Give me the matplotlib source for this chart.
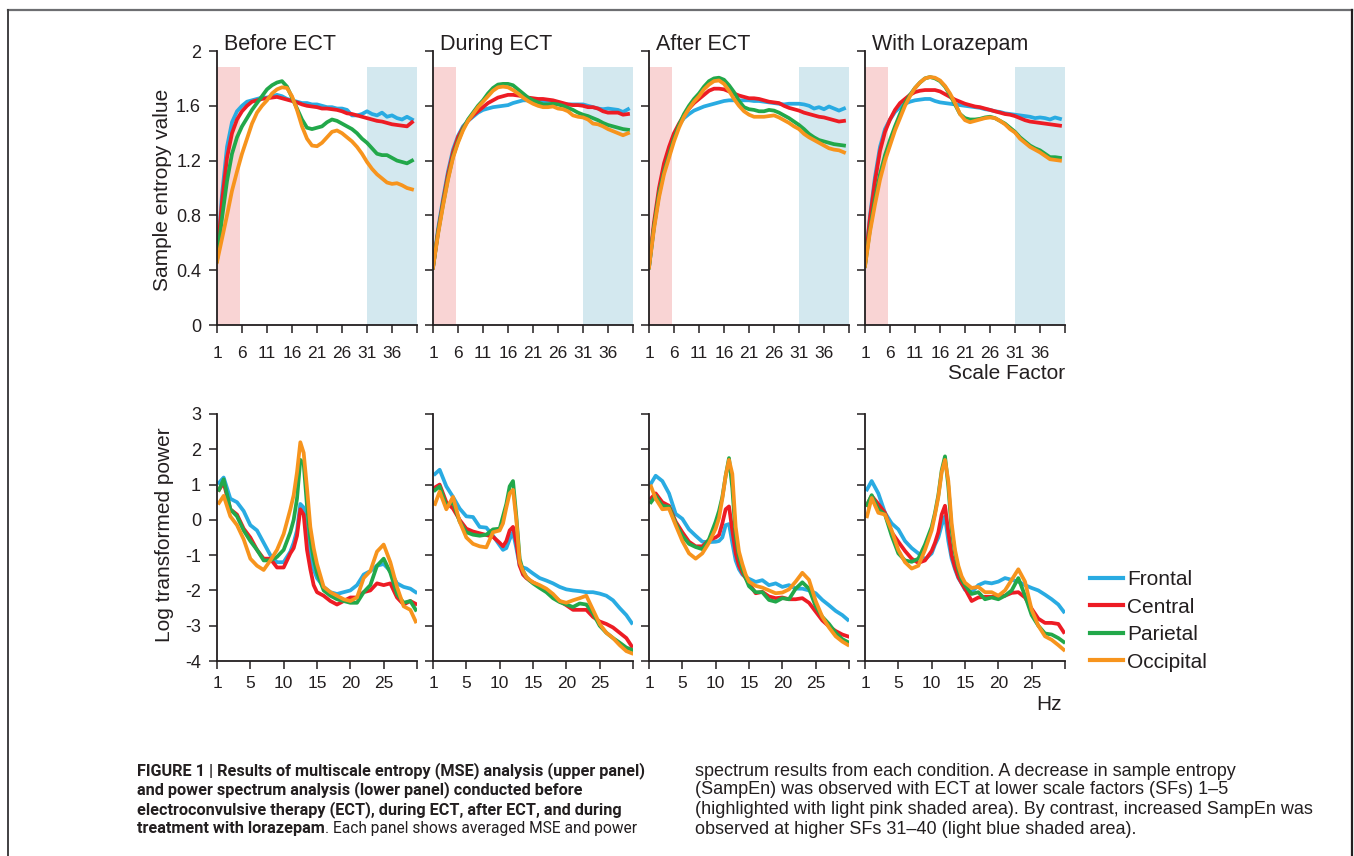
import matplotlib
matplotlib.use("Agg")
import matplotlib.pyplot as plt
from matplotlib.lines import Line2D
from matplotlib.text import Annotation

plt.rcParams["font.family"] = ["Liberation Sans", "DejaVu Sans"]
plt.rcParams["axes.unicode_minus"] = False

W, H = 1354, 856
ink = "#231f20"

conditions = ["Before ECT", "During ECT", "After ECT", "With Lorazepam"]
regions = ["Frontal", "Central", "Parietal", "Occipital"]
region_colors = ["#29abe2", "#ed1c24", "#22a84a", "#f7941d"]

# ---- multiscale entropy, scale factors 1..40 (frontal, central, parietal, occipital)
scale_factor = list(range(1, 41))

mse_before = [
    [0.47, 0.95, 1.3, 1.48, 1.56, 1.6, 1.63, 1.64, 1.65, 1.66, 1.66, 1.67, 1.68, 1.67, 1.65, 1.64, 1.63, 1.62, 1.62, 1.61,
     1.61, 1.6, 1.59, 1.59, 1.58, 1.58, 1.57, 1.53, 1.53, 1.54, 1.56, 1.54, 1.53, 1.55, 1.52, 1.53, 1.51, 1.50, 1.52, 1.50],
    [0.48, 0.9, 1.22, 1.4, 1.5, 1.56, 1.6, 1.63, 1.64, 1.65, 1.655, 1.66, 1.665, 1.655, 1.645, 1.635, 1.625, 1.61, 1.6, 1.595,
     1.59, 1.58, 1.58, 1.575, 1.57, 1.56, 1.545, 1.54, 1.53, 1.52, 1.51, 1.5, 1.49, 1.485, 1.475, 1.465, 1.46, 1.455, 1.45, 1.48],
    [0.47, 0.78, 1.05, 1.25, 1.37, 1.45, 1.51, 1.57, 1.62, 1.67, 1.72, 1.75, 1.77, 1.78, 1.74, 1.66, 1.58, 1.5, 1.44, 1.43,
     1.44, 1.45, 1.48, 1.5, 1.49, 1.47, 1.45, 1.43, 1.4, 1.36, 1.33, 1.29, 1.25, 1.24, 1.24, 1.22, 1.2, 1.19, 1.18, 1.2],
    [0.46, 0.63, 0.8, 0.98, 1.12, 1.25, 1.36, 1.47, 1.55, 1.6, 1.64, 1.69, 1.72, 1.735, 1.73, 1.67, 1.57, 1.45, 1.36, 1.31,
     1.305, 1.33, 1.37, 1.41, 1.42, 1.4, 1.37, 1.34, 1.3, 1.25, 1.19, 1.14, 1.1, 1.07, 1.04, 1.03, 1.035, 1.02, 1.0, 0.99],
]

mse_during = [
    [0.42, 0.7, 0.92, 1.12, 1.28, 1.38, 1.45, 1.49, 1.52, 1.55, 1.57, 1.58, 1.59, 1.595, 1.6, 1.605, 1.62, 1.63, 1.64, 1.64,
     1.635, 1.63, 1.63, 1.63, 1.63, 1.625, 1.615, 1.61, 1.61, 1.61, 1.61, 1.6, 1.59, 1.58, 1.575, 1.58, 1.575, 1.57, 1.555, 1.575],
    [0.42, 0.68, 0.9, 1.1, 1.26, 1.37, 1.44, 1.49, 1.53, 1.56, 1.59, 1.62, 1.64, 1.66, 1.67, 1.68, 1.68, 1.675, 1.67, 1.66,
     1.655, 1.65, 1.65, 1.645, 1.64, 1.63, 1.62, 1.61, 1.605, 1.605, 1.6, 1.59, 1.59, 1.58, 1.56, 1.55, 1.55, 1.55, 1.535, 1.54],
    [0.42, 0.67, 0.88, 1.07, 1.23, 1.34, 1.43, 1.5, 1.55, 1.6, 1.64, 1.69, 1.73, 1.755, 1.76, 1.76, 1.75, 1.72, 1.69, 1.66,
     1.64, 1.625, 1.61, 1.61, 1.615, 1.61, 1.6, 1.585, 1.57, 1.55, 1.535, 1.525, 1.51, 1.495, 1.475, 1.46, 1.45, 1.44, 1.43, 1.425],
    [0.42, 0.66, 0.87, 1.06, 1.22, 1.33, 1.42, 1.49, 1.54, 1.59, 1.63, 1.67, 1.71, 1.735, 1.74, 1.735, 1.715, 1.69, 1.66, 1.635,
     1.615, 1.6, 1.59, 1.59, 1.595, 1.58, 1.575, 1.56, 1.53, 1.52, 1.515, 1.5, 1.47, 1.465, 1.45, 1.43, 1.415, 1.4, 1.385, 1.4],
]

mse_after = [
    [0.42, 0.72, 0.95, 1.13, 1.28, 1.38, 1.46, 1.51, 1.54, 1.565, 1.58, 1.595, 1.605, 1.615, 1.625, 1.635, 1.64, 1.64, 1.64, 1.64,
     1.64, 1.635, 1.635, 1.63, 1.625, 1.62, 1.615, 1.61, 1.615, 1.615, 1.615, 1.61, 1.6, 1.58, 1.59, 1.575, 1.595, 1.58, 1.565, 1.58],
    [0.43, 0.75, 1.0, 1.18, 1.3, 1.4, 1.47, 1.53, 1.58, 1.62, 1.65, 1.68, 1.71, 1.725, 1.725, 1.72, 1.705, 1.69, 1.675, 1.665,
     1.655, 1.655, 1.65, 1.64, 1.63, 1.625, 1.62, 1.6, 1.585, 1.575, 1.565, 1.55, 1.54, 1.53, 1.52, 1.515, 1.505, 1.495, 1.485, 1.49],
    [0.42, 0.72, 0.96, 1.12, 1.24, 1.36, 1.46, 1.54, 1.6, 1.65, 1.69, 1.74, 1.78, 1.8, 1.805, 1.79, 1.75, 1.7, 1.635, 1.59,
     1.575, 1.57, 1.56, 1.56, 1.57, 1.565, 1.55, 1.53, 1.51, 1.485, 1.46, 1.43, 1.395, 1.37, 1.35, 1.34, 1.33, 1.32, 1.315, 1.31],
    [0.42, 0.7, 0.93, 1.1, 1.22, 1.34, 1.44, 1.52, 1.58, 1.63, 1.67, 1.72, 1.755, 1.78, 1.785, 1.76, 1.71, 1.65, 1.6, 1.56,
     1.535, 1.52, 1.52, 1.52, 1.525, 1.53, 1.515, 1.495, 1.475, 1.45, 1.43, 1.395, 1.37, 1.35, 1.33, 1.31, 1.29, 1.28, 1.275, 1.26],
]

mse_lorazepam = [
    [0.44, 0.8, 1.08, 1.3, 1.43, 1.5, 1.555, 1.59, 1.615, 1.63, 1.64, 1.645, 1.65, 1.65, 1.635, 1.625, 1.62, 1.615, 1.61, 1.605,
     1.6, 1.595, 1.59, 1.585, 1.575, 1.57, 1.56, 1.555, 1.545, 1.54, 1.535, 1.53, 1.525, 1.52, 1.51, 1.515, 1.51, 1.5, 1.515, 1.505],
    [0.44, 0.78, 1.05, 1.27, 1.41, 1.5, 1.57, 1.62, 1.65, 1.68, 1.7, 1.71, 1.715, 1.715, 1.715, 1.705, 1.685, 1.665, 1.645, 1.63,
     1.615, 1.605, 1.595, 1.59, 1.58, 1.57, 1.56, 1.55, 1.54, 1.535, 1.525, 1.51, 1.495, 1.485, 1.48, 1.475, 1.47, 1.465, 1.46, 1.455],
    [0.43, 0.7, 0.92, 1.1, 1.24, 1.35, 1.45, 1.54, 1.62, 1.68, 1.73, 1.77, 1.8, 1.81, 1.8, 1.78, 1.74, 1.68, 1.61, 1.54,
     1.51, 1.5, 1.5, 1.505, 1.515, 1.52, 1.51, 1.49, 1.47, 1.44, 1.41, 1.37, 1.34, 1.31, 1.29, 1.275, 1.25, 1.225, 1.225, 1.22],
    [0.43, 0.68, 0.88, 1.06, 1.2, 1.31, 1.42, 1.51, 1.6, 1.67, 1.73, 1.77, 1.8, 1.81, 1.805, 1.785, 1.745, 1.69, 1.62, 1.54,
     1.495, 1.48, 1.49, 1.5, 1.51, 1.515, 1.51, 1.49, 1.465, 1.43, 1.405, 1.36, 1.33, 1.3, 1.28, 1.26, 1.235, 1.21, 1.205, 1.2],
]

# ---- log transformed power spectrum (frontal, central, parietal, occipital)
freq_hz = [0.3, 1, 2, 3, 4, 5, 6, 7, 8, 9, 10,
           10.5, 11, 11.5, 12, 12.5, 13, 13.5, 14, 14.5, 15,
           16, 17, 18, 19, 20, 21, 22, 23, 24, 25, 26, 27, 28, 29, 29.8]

power_before = [
    [1.05, 1.2, 0.6, 0.5, 0.25, -0.15, -0.3, -0.65, -1.0, -1.2, -1.2,
     -1.05, -0.9, -0.65, -0.3, 0.45, 0.35, -0.45, -1.0, -1.4, -1.65,
     -1.9, -2.05, -2.1, -2.05, -2.0, -1.85, -1.55, -1.45, -1.3, -1.25, -1.45, -1.8, -1.9, -1.95, -2.05],
    [0.85, 1.05, 0.3, 0.15, -0.25, -0.5, -0.85, -1.1, -1.1, -1.35, -1.35,
     -1.15, -0.95, -0.8, -0.45, 0.3, 0.15, -0.85, -1.4, -1.85, -2.05,
     -2.15, -2.3, -2.4, -2.3, -2.2, -2.2, -2.05, -2.0, -1.8, -1.85, -1.8, -2.2, -2.4, -2.3, -2.38],
    [0.85, 1.15, 0.3, 0.1, -0.3, -0.6, -0.85, -1.15, -1.15, -1.05, -0.85,
     -0.6, -0.35, 0.0, 0.6, 1.7, 1.6, 0.4, -0.55, -1.1, -1.5,
     -2.0, -2.15, -2.25, -2.3, -2.35, -2.35, -2.05, -1.85, -1.3, -1.1, -1.5, -2.1, -2.35, -2.3, -2.55],
    [0.48, 0.68, 0.1, -0.15, -0.55, -1.1, -1.3, -1.42, -1.15, -0.85, -0.4,
     -0.05, 0.3, 0.7, 1.35, 2.2, 1.9, 0.9, -0.2, -0.8, -1.25,
     -1.9, -2.05, -2.15, -2.25, -2.3, -2.2, -1.65, -1.45, -0.9, -0.7, -1.2, -1.9, -2.45, -2.55, -2.88],
]

power_during = [
    [1.3, 1.42, 0.95, 0.65, 0.32, 0.1, 0.08, -0.2, -0.22, -0.45, -0.72,
     -0.85, -0.8, -0.55, -0.35, -0.8, -1.3, -1.35, -1.38, -1.45, -1.52,
     -1.65, -1.72, -1.8, -1.9, -1.97, -2.0, -2.02, -2.05, -2.05, -2.09, -2.15, -2.28, -2.5, -2.7, -2.92],
    [0.92, 1.0, 0.5, 0.32, 0.0, -0.25, -0.33, -0.38, -0.43, -0.48, -0.65,
     -0.75, -0.6, -0.3, -0.2, -0.65, -1.3, -1.55, -1.65, -1.72, -1.77,
     -1.88, -2.0, -2.15, -2.3, -2.42, -2.55, -2.55, -2.55, -2.75, -2.88, -2.95, -3.05, -3.2, -3.35, -3.58],
    [0.84, 0.95, 0.4, 0.5, -0.05, -0.35, -0.42, -0.45, -0.42, -0.27, -0.25,
     0.1, 0.45, 0.95, 1.1, 0.1, -1.1, -1.45, -1.62, -1.72, -1.8,
     -1.93, -2.05, -2.22, -2.33, -2.4, -2.47, -2.37, -2.4, -2.65, -3.0, -3.2, -3.35, -3.48, -3.62, -3.68],
    [0.45, 0.8, 0.3, 0.65, -0.05, -0.5, -0.68, -0.75, -0.78, -0.35, -0.3,
     -0.1, 0.35, 0.75, 0.85, 0.0, -1.2, -1.45, -1.62, -1.7, -1.77,
     -1.85, -1.95, -2.1, -2.3, -2.35, -2.28, -2.22, -2.15, -2.55, -2.95, -3.2, -3.35, -3.55, -3.72, -3.78],
]

power_after = [
    [1.03, 1.25, 1.1, 0.75, 0.17, 0.03, -0.27, -0.45, -0.62, -0.63, -0.62,
     -0.6, -0.5, -0.15, -0.12, -0.65, -1.15, -1.4, -1.55, -1.63, -1.67,
     -1.76, -1.71, -1.85, -1.8, -1.9, -1.85, -1.95, -1.95, -2.0, -2.08, -2.27, -2.42, -2.58, -2.7, -2.83],
    [0.61, 0.75, 0.5, 0.4, -0.05, -0.35, -0.62, -0.75, -0.75, -0.57, -0.5,
     -0.43, -0.1, 0.3, 0.38, -0.3, -0.95, -1.3, -1.5, -1.65, -1.8,
     -2.08, -2.04, -2.17, -2.22, -2.2, -2.25, -2.25, -2.22, -2.35, -2.6, -2.85, -3.02, -3.15, -3.25, -3.3],
    [0.5, 0.68, 0.4, 0.37, -0.1, -0.45, -0.68, -0.77, -0.83, -0.55, -0.05,
     0.25, 0.65, 1.25, 1.75, 0.9, -0.45, -1.05, -1.4, -1.65, -1.88,
     -2.05, -2.05, -2.27, -2.32, -2.22, -2.25, -1.95, -1.77, -1.95, -2.45, -2.75, -2.95, -3.2, -3.38, -3.46],
    [0.95, 0.6, 0.3, 0.32, -0.15, -0.6, -0.95, -1.1, -0.95, -0.65, -0.25,
     0.05, 0.6, 1.25, 1.7, 1.3, -0.2, -0.9, -1.25, -1.55, -1.75,
     -1.87, -1.92, -2.0, -2.08, -2.06, -1.97, -1.75, -1.5, -1.7, -2.3, -2.75, -3.05, -3.3, -3.45, -3.54],
]

power_lorazepam = [
    [0.86, 1.1, 0.75, 0.2, -0.1, -0.27, -0.6, -0.8, -0.95, -1.12, -0.95,
     -0.7, -0.5, -0.15, 0.1, -0.6, -1.1, -1.4, -1.65, -1.8, -1.98,
     -2.05, -1.85, -1.77, -1.8, -1.75, -1.65, -1.7, -1.75, -1.85, -1.93, -2.0, -2.12, -2.25, -2.4, -2.6],
    [0.42, 0.68, 0.45, 0.2, -0.35, -0.62, -0.88, -1.1, -1.22, -1.15, -0.88,
     -0.65, -0.35, 0.15, 0.4, -0.35, -1.0, -1.35, -1.62, -1.8, -1.95,
     -2.3, -2.2, -2.18, -2.18, -2.18, -2.15, -2.07, -2.05, -2.2, -2.52, -2.8, -2.92, -2.92, -2.95, -3.18],
    [0.42, 0.7, 0.3, 0.15, -0.45, -0.95, -1.15, -1.19, -1.1, -0.7, -0.2,
     0.2, 0.7, 1.4, 1.8, 0.95, -0.3, -0.95, -1.4, -1.7, -1.85,
     -2.1, -2.05, -2.25, -2.2, -2.25, -2.15, -2.0, -1.65, -2.15, -2.7, -3.0, -3.22, -3.25, -3.35, -3.46],
    [0.1, 0.62, 0.2, 0.15, -0.3, -0.85, -1.2, -1.38, -1.3, -0.85, -0.3,
     0.15, 0.65, 1.35, 1.7, 1.1, -0.1, -0.85, -1.3, -1.6, -1.78,
     -1.93, -1.9, -2.05, -2.05, -2.15, -2.0, -1.7, -1.4, -1.75, -2.55, -3.0, -3.3, -3.4, -3.55, -3.68],
]

mse_all = [mse_before, mse_during, mse_after, mse_lorazepam]
power_all = [power_before, power_during, power_after, power_lorazepam]

# shaded scale-factor bands
low_sf_band = (1, 5.6)
high_sf_band = (30.9, 41)
band_top = 1.88

mse_ticks = [1, 6, 11, 16, 21, 26, 31, 36, 41]
mse_ticklabels = ["1", "6", "11", "16", "21", "26", "31", "36", ""]
mse_yticks = [0, 0.4, 0.8, 1.2, 1.6, 2]
mse_yticklabels = ["0", "0.4", "0.8", "1.2", "1.6", "2"]
hz_ticks = [0, 5, 10, 15, 20, 25, 30]
hz_ticklabels = ["1", "5", "10", "15", "20", "25", ""]
pw_yticks = [-4, -3, -2, -1, 0, 1, 2, 3]


def box(x0, y_top, w, h):
    return [x0 / W, 1 - (y_top + h) / H, w / W, h / H]


def style(ax, xpad):
    for s in ["top", "right"]:
        ax.spines[s].set_visible(False)
    for s in ["left", "bottom"]:
        ax.spines[s].set_color(ink)
        ax.spines[s].set_linewidth(1.3)
    ax.tick_params(direction="out", length=5.5, width=1.1, color=ink, labelcolor=ink)
    ax.tick_params(axis="x", pad=xpad, labelsize=12.5)
    ax.tick_params(axis="y", pad=6, labelsize=13)


fig = plt.figure(figsize=(W / 100, H / 100), dpi=100)

panel_left = [217, 433, 649, 865]
for i, cond in enumerate(conditions):
    # entropy row
    ax = fig.add_axes(box(panel_left[i], 51, 200, 274))
    ax.axvspan(*low_sf_band, ymin=0, ymax=band_top / 2, color="#f9d4d4", lw=0, zorder=0)
    ax.axvspan(*high_sf_band, ymin=0, ymax=band_top / 2, color="#d3e8ef", lw=0, zorder=0)
    for vals, col in zip(mse_all[i], region_colors):
        ax.plot(scale_factor, vals, color=col, lw=2.7, solid_joinstyle="round")
    ax.set_xlim(1, 41)
    ax.set_ylim(0, 2)
    ax.set_xticks(mse_ticks)
    ax.set_xticklabels(mse_ticklabels)
    ax.set_yticks(mse_yticks)
    ax.set_yticklabels(mse_yticklabels if i == 0 else [])
    style(ax, 9.5)
    ax.text(0.035, 1.005, cond, transform=ax.transAxes, ha="left", va="baseline",
            fontsize=15.5, color=ink)

    # power row
    ax2 = fig.add_axes(box(panel_left[i], 414, 200, 247))
    for vals, col in zip(power_all[i], region_colors):
        ax2.plot(freq_hz, vals, color=col, lw=2.7, solid_joinstyle="round")
    ax2.set_xlim(0, 30)
    ax2.set_ylim(-4, 3)
    ax2.set_xticks(hz_ticks)
    ax2.set_xticklabels(hz_ticklabels)
    ax2.set_yticks(pw_yticks)
    ax2.set_yticklabels([str(v) for v in pw_yticks] if i == 0 else [])
    style(ax2, 5)

fig.text(163 / W, 1 - 190 / H, "Sample entropy value", rotation=90, ha="center", va="center",
         fontsize=15, color=ink)
fig.text(165 / W, 1 - 535 / H, "Log transformed power", rotation=90, ha="center", va="center",
         fontsize=15, color=ink)
fig.text(1065 / W, 1 - 373 / H, "Scale Factor", ha="right", va="center", fontsize=15, color=ink)
fig.text(1062 / W, 1 - 705 / H, "Hz", ha="right", va="center", fontsize=15, color=ink)

handles = [Line2D([], [], color=c, lw=3) for c in region_colors]
fig.legend(handles, regions, loc="upper left", bbox_to_anchor=(1090 / W, 1 - 570 / H),
           frameon=False, fontsize=15, handlelength=1.6, handletextpad=0.2,
           labelspacing=0.41, borderpad=0, borderaxespad=0, labelcolor=ink)

# caption
left_font = ["Roboto", "Liberation Sans"]
left_lines = [
    "FIGURE 1 | Results of multiscale entropy (MSE) analysis (upper panel)",
    "and power spectrum analysis (lower panel) conducted before",
    "electroconvulsive therapy (ECT), during ECT, after ECT, and during",
]
right_lines = [
    "spectrum results from each condition. A decrease in sample entropy",
    "(SampEn) was observed with ECT at lower scale factors (SFs) 1\u20135",
    "(highlighted with light pink shaded area). By contrast, increased SampEn was",
    "observed at higher SFs 31\u201340 (light blue shaded area).",
]
line_y = [771, 790, 810, 829]
for txt, y in zip(left_lines, line_y):
    fig.text(137 / W, 1 - y / H, txt, ha="left", va="center", fontsize=11.7,
             fontweight="bold", family=left_font, color=ink)
t_bold = fig.text(137 / W, 1 - line_y[3] / H, "treatment with lorazepam", ha="left", va="center",
                  fontsize=11.7, fontweight="bold", family=left_font, color=ink)
fig.add_artist(Annotation(". Each panel shows averaged MSE and power", xy=(1, 0), xycoords=t_bold,
                          ha="left", va="bottom", fontsize=11.2, family=left_font, color=ink))
for txt, y in zip(right_lines, line_y):
    fig.text(695 / W, 1 - y / H, txt, ha="left", va="center", fontsize=13.0, color=ink)

# page frame
fig.add_artist(Line2D([8 / W, 1352 / W], [1 - 10 / H, 1 - 10 / H], color="#6d6e71", lw=1.6))
fig.add_artist(Line2D([8 / W, 8 / W], [1 - 10 / H, 0], color="#414042", lw=1.4))
fig.add_artist(Line2D([1352 / W, 1352 / W], [1 - 10 / H, 0], color="#231f20", lw=1.6))

fig.savefig("out.png", dpi=100)
